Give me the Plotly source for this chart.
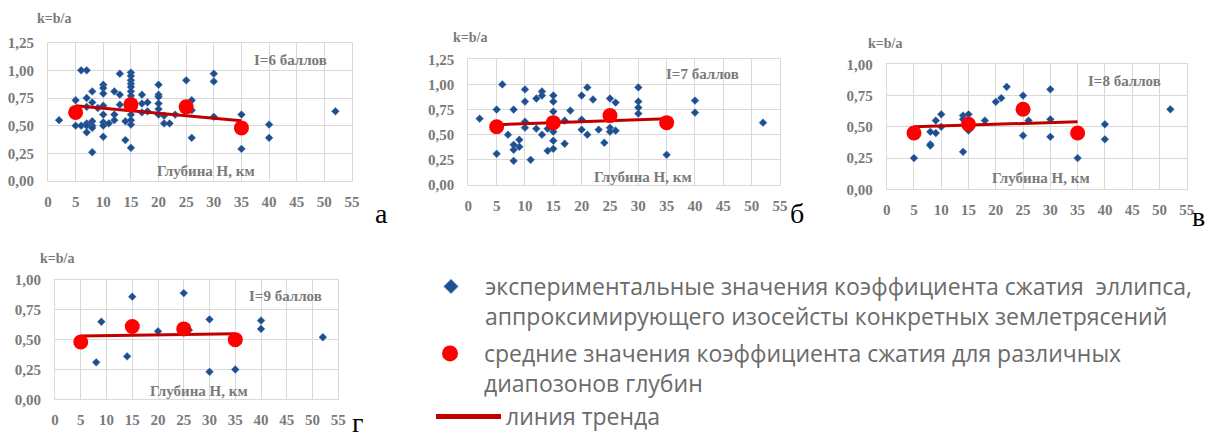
import plotly.graph_objects as go

OFF = 8  # the page body adds an 8px margin around the figure
W, H = 1214 - 2 * OFF, 433 - OFF

# ---------------- data ----------------
depth_mean = [5, 15, 25, 35]
trend_x = [5, 35]

# Panel а : I = 6
a_x = [2, 5, 5, 6, 6, 7, 7, 7, 7, 7, 7, 8, 8, 8, 8, 8, 8, 9,
       10, 10, 10, 10, 10, 10, 10, 10, 11, 12, 12, 12, 13, 13, 13, 14, 14,
       15, 15, 15, 15, 15, 15, 15, 15, 15, 15, 15, 15,
       17, 17, 17, 18, 18, 20, 20, 20, 20, 20, 20, 21, 21, 22, 23, 25,
       26, 26, 26, 30, 30, 30, 35, 35, 40, 40, 52]
a_y = [0.55, 0.73, 0.50, 1.00, 0.50, 1.00, 0.75, 0.67, 0.52, 0.50, 0.44,
       0.81, 0.71, 0.54, 0.50, 0.48, 0.26, 0.66,
       0.87, 0.84, 0.79, 0.68, 0.60, 0.53, 0.50, 0.40, 0.52, 0.81, 0.60, 0.55,
       0.97, 0.78, 0.69, 0.54, 0.37,
       0.98, 0.95, 0.91, 0.88, 0.85, 0.81, 0.77, 0.74, 0.60, 0.55, 0.51, 0.30,
       0.78, 0.70, 0.62, 0.71, 0.63, 0.87, 0.78, 0.76, 0.70, 0.65, 0.60,
       0.59, 0.52, 0.52, 0.60, 0.91, 0.73, 0.64, 0.39, 0.97, 0.90, 0.58,
       0.60, 0.29, 0.51, 0.39, 0.63]
a_mean = [0.62, 0.69, 0.67, 0.48]
a_trend = [0.68, 0.545]

# Panel б : I = 7
b_x = [2, 5, 5, 6, 7, 8, 8, 8, 8, 9, 9, 10, 10, 10, 10, 11, 12, 12,
       13, 13, 13, 14, 14, 15, 15, 15, 15, 15, 15, 17, 17, 18, 20, 20, 20,
       21, 21, 22, 23, 24, 25, 25, 25, 26, 26, 30, 30, 30, 30, 35, 40, 40, 52]
b_y = [0.66, 0.75, 0.31, 1.00, 0.50, 0.75, 0.40, 0.35, 0.24, 0.45, 0.38,
       0.95, 0.83, 0.63, 0.57, 0.25, 0.86, 0.56, 0.93, 0.89, 0.50, 0.56, 0.34,
       0.89, 0.83, 0.73, 0.53, 0.44, 0.36, 0.64, 0.41, 0.74, 0.89, 0.65, 0.55,
       0.97, 0.50, 0.85, 0.55, 0.42, 0.86, 0.57, 0.53, 0.82, 0.54,
       0.97, 0.83, 0.77, 0.71, 0.30, 0.84, 0.72, 0.62]
b_mean = [0.58, 0.62, 0.69, 0.62]
b_trend = [0.60, 0.66]

# Panel в : I = 8
c_x = [5, 8, 8, 8, 9, 9, 10, 10, 14, 14, 14, 15, 15, 18, 20, 21, 22,
       25, 25, 26, 30, 30, 30, 35, 40, 40, 52]
c_y = [0.25, 0.46, 0.36, 0.35, 0.55, 0.45, 0.60, 0.50, 0.59, 0.56, 0.30,
       0.60, 0.47, 0.55, 0.70, 0.73, 0.82, 0.75, 0.43, 0.55, 0.80, 0.56, 0.42,
       0.25, 0.52, 0.40, 0.64]
c_mean = [0.45, 0.52, 0.64, 0.45]
c_trend = [0.50, 0.54]

# Panel г : I = 9
d_x = [8, 9, 14, 15, 20, 25, 26, 30, 30, 35, 40, 40, 52]
d_y = [0.31, 0.65, 0.36, 0.86, 0.57, 0.89, 0.58, 0.67, 0.23, 0.25, 0.66, 0.59, 0.52]
d_mean = [0.48, 0.61, 0.59, 0.50]
d_trend = [0.53, 0.55]

x_ticks = [0, 5, 10, 15, 20, 25, 30, 35, 40, 45, 50, 55]

legend_names = [
    "экспериментальные значения коэффициента сжатия  эллипса,<br>аппроксимирующего изосейсты конкретных землетрясений",
    "средние значения коэффициента сжатия для различных<br>диапозонов глубин",
    "линия тренда",
]

# ---------------- styling / layout ----------------
BLUE = "#1F4E8C"
RED = "#FF0000"
DARKRED = "#C00000"
GRID = "#D9D9D9"
GRAY = "#7A7A7A"
SERIF = "Liberation Serif"


def px_x(px):
    return (px - OFF) / W


def px_y(py):
    return 1 - (py - OFF) / H


panels = [
    dict(x=a_x, y=a_y, m=a_mean, t=a_trend, ymax=1.25, box=(48, 352, 42.7, 181),
         label="I=6 баллов", lab_pos=(43.9, 1.09), depth_pos=(28.6, 0.09),
         k_pos=(54, 19), letter="а", letter_pos=(382, 214)),
    dict(x=b_x, y=b_y, m=b_mean, t=b_trend, ymax=1.25, box=(468.3, 780, 59.3, 185),
         label="I=7 баллов", lab_pos=(41.3, 1.10), depth_pos=(30.9, 0.08),
         k_pos=(470, 37), letter="б", letter_pos=(797, 214)),
    dict(x=c_x, y=c_y, m=c_mean, t=c_trend, ymax=1.0, box=(886.7, 1186.7, 64.3, 189.3),
         label="I=8 баллов", lab_pos=(43.6, 0.87), depth_pos=(28.2, 0.09),
         k_pos=(885, 43), letter="в", letter_pos=(1198, 216)),
    dict(x=d_x, y=d_y, m=d_mean, t=d_trend, ymax=1.0, box=(55, 338.3, 280, 399.3),
         label="I=9 баллов", lab_pos=(44.7, 0.87), depth_pos=(28.0, 0.07),
         k_pos=(57, 258), letter="г", letter_pos=(357, 422)),
]

fig = go.Figure()
annotations = []
layout_axes = {}

for i, p in enumerate(panels, start=1):
    xa = "x" if i == 1 else f"x{i}"
    ya = "y" if i == 1 else f"y{i}"
    fig.add_trace(go.Scatter(x=p["x"], y=p["y"], mode="markers", xaxis=xa, yaxis=ya,
                             marker=dict(symbol="diamond", size=6, color=BLUE,
                                         line=dict(width=0.5, color="#3F73B5")),
                             showlegend=False, hoverinfo="x+y"))
    fig.add_trace(go.Scatter(x=trend_x, y=p["t"], mode="lines", xaxis=xa, yaxis=ya,
                             line=dict(color=DARKRED, width=3), showlegend=False))
    fig.add_trace(go.Scatter(x=depth_mean, y=p["m"], mode="markers", xaxis=xa, yaxis=ya,
                             marker=dict(symbol="circle", size=15, color=RED),
                             showlegend=False))

    L, R, T, B = p["box"]
    axis_common = dict(showgrid=True, gridcolor=GRID, gridwidth=1, zeroline=False,
                       showline=True, linecolor=GRID, linewidth=1, mirror=True,
                       ticks="outside", tickcolor="rgba(0,0,0,0)", automargin=False,
                       tickfont=dict(family=SERIF, size=15, color=GRAY, weight="bold"),
                       fixedrange=True)
    layout_axes["xaxis" if i == 1 else f"xaxis{i}"] = dict(
        axis_common, domain=[px_x(L), px_x(R)], range=[0, 55], tickvals=x_ticks,
        ticklen=7, anchor=ya)
    layout_axes["yaxis" if i == 1 else f"yaxis{i}"] = dict(
        axis_common, domain=[px_y(B), px_y(T)], range=[0, p["ymax"]],
        dtick=0.25, tick0=0, tickformat=".2f", ticklen=10, anchor=xa)

    annotations.append(dict(text=p["label"], x=p["lab_pos"][0], y=p["lab_pos"][1],
                            xref=xa, yref=ya, showarrow=False,
                            xanchor="center", yanchor="middle",
                            font=dict(family=SERIF, size=15, color=GRAY, weight="bold")))
    annotations.append(dict(text="Глубина H, км", x=p["depth_pos"][0], y=p["depth_pos"][1],
                            xref=xa, yref=ya, showarrow=False,
                            xanchor="center", yanchor="middle",
                            font=dict(family=SERIF, size=15, color=GRAY, weight="bold")))
    annotations.append(dict(text="k=b/a", x=px_x(p["k_pos"][0]), y=px_y(p["k_pos"][1]),
                            xref="paper", yref="paper", showarrow=False,
                            xanchor="center", yanchor="middle",
                            font=dict(family=SERIF, size=14, color=GRAY, weight="bold")))
    annotations.append(dict(text=p["letter"], x=px_x(p["letter_pos"][0]),
                            y=px_y(p["letter_pos"][1]),
                            xref="paper", yref="paper", showarrow=False,
                            xanchor="center", yanchor="middle",
                            font=dict(family=SERIF, size=28, color="#000000")))

# legend-only traces (one legend per entry)
fig.add_trace(go.Scatter(x=[None], y=[None], mode="markers", name=legend_names[0],
                         marker=dict(symbol="diamond", size=11, color=BLUE,
                                     line=dict(width=1, color="#5B9BD5")),
                         legend="legend", showlegend=True))
fig.add_trace(go.Scatter(x=[None], y=[None], mode="markers", name=legend_names[1],
                         marker=dict(symbol="circle", size=16, color=RED),
                         legend="legend2", showlegend=True))
fig.add_trace(go.Scatter(x=[None], y=[None], mode="lines", name=legend_names[2],
                         line=dict(color=DARKRED, width=5),
                         legend="legend3", showlegend=True))

LEG_FONT = dict(family="Open Sans", size=23, color="#6B6B6B")


def leg(xpx, ypx, iw):
    return dict(x=px_x(xpx), y=px_y(ypx), xanchor="left", yanchor="top",
                xref="paper", yref="paper", itemwidth=iw, valign="top",
                bgcolor="rgba(0,0,0,0)", borderwidth=0, font=LEG_FONT,
                itemclick=False, itemdoubleclick=False, tracegroupgap=0)


fig.update_layout(
    template="none",
    width=W, height=H, margin=dict(l=0, r=0, t=0, b=0, autoexpand=False),
    paper_bgcolor="white", plot_bgcolor="white",
    separators=", ",
    annotations=annotations,
    legend=leg(417, 265, 58),
    legend2=leg(416, 332, 58),
    legend3=leg(431, 395, 65),
    **layout_axes,
)

fig.write_html("out.html")
